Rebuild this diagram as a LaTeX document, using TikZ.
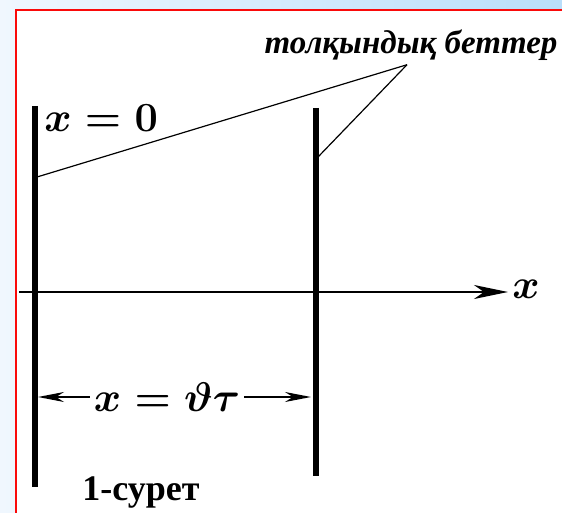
\documentclass[tikz,border=0pt]{standalone}
\usepackage{fontspec}
\setmainfont{Liberation Serif}
\usepackage{amsmath, amssymb}
\usetikzlibrary{arrows.meta, positioning, calc}
\definecolor{framered}{RGB}{250, 10, 10}
\definecolor{skyleft}{RGB}{240, 247, 254}
\definecolor{skyright}{RGB}{185, 222, 250}

\begin{document}
\begin{tikzpicture}[x=0.5pt, y=-0.5pt,
    plane/.style={line width=2.6pt},
    leader/.style={line width=0.6pt},
    axisline/.style={line width=1pt, -{Stealth[length=17pt, width=7pt, inset=5pt]}},
    dimarrow/.style={line width=0.9pt, -{Stealth[length=13pt, width=5pt, inset=4pt]}},
    mathlbl/.style={inner sep=0pt, font=\fontsize{22}{24}\selectfont\boldmath}]
  % background and frame
  \useasboundingbox (0,0) rectangle (562,513);
  \shade[left color=skyleft, right color=skyright] (0,0) rectangle (562,513);
  \draw[framered, line width=1pt, fill=white] (16,10) rectangle (580,530);

  % wave planes
  \coordinate (p1top) at (35,106);
  \coordinate (p1bot) at (35,487);
  \coordinate (p2top) at (316,108);
  \coordinate (p2bot) at (316,476);
  \draw[plane] (p1top) -- (p1bot);
  \draw[plane] (p2top) -- (p2bot);

  % axis
  \coordinate (axstart) at (19,292);
  \coordinate (axend) at (508,292);
  \draw[axisline] (axstart) -- (axend);
  \node[mathlbl, anchor=west] (xaxis) at (512,289) {$x$};

  % labels
  \node[mathlbl, anchor=west] (xzero) at (44,118) {$x=0$};
  \node[inner sep=1pt, font=\fontsize{16.5}{18}\selectfont\bfseries\itshape] (planes) at (411,45) {толқындық беттер};
  \coordinate (hit1) at (37,177);
  \coordinate (hit2) at (318,157);
  \draw[leader] ($(planes.south)+(-4,2)$) coordinate (tip) -- (hit1);
  \draw[leader] (tip) -- (hit2);

  % distance
  \node[mathlbl] (dist) at (167,397) {$x=\vartheta\tau$};
  \coordinate (d1) at (38,397);
  \coordinate (d2) at (311,397);
  \draw[dimarrow] ($(dist.west)+(-4,0)$) -- (d1);
  \draw[dimarrow] ($(dist.east)+(4,0)$) -- (d2);

  % caption
  \node[font=\fontsize{18}{20}\selectfont\bfseries] (caption) at (141,492) {1-сурет};
\end{tikzpicture}
\end{document}
